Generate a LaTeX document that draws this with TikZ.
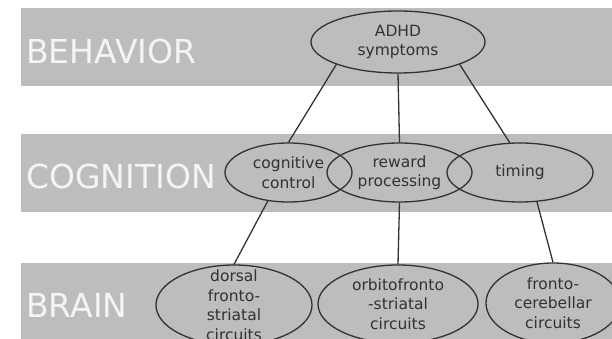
\documentclass[tikz,border=0pt]{standalone}
\usepackage{fontspec}
\setmainfont{DejaVu Sans}
\usetikzlibrary{shapes.geometric}
\definecolor{bandgray}{RGB}{189,189,189}
\definecolor{inkgray}{RGB}{50,50,50}
\definecolor{levelwhite}{RGB}{244,244,244}
\begin{document}
\begin{tikzpicture}[x=1pt,y=-1pt,
	level/.style={anchor=west,inner sep=0pt,text=levelwhite,font=\fontsize{33}{40}\selectfont},
	ell/.style={ellipse,draw=inkgray,line width=1.3pt,inner sep=0pt,align=center,text=inkgray,font=\fontsize{15.5}{19.5}\selectfont},
	link/.style={draw=inkgray,line width=1.3pt}]
		\useasboundingbox (0,0) rectangle (612,339);
		%bands
		\fill[bandgray] (21,8) rectangle (612,86);
		\fill[bandgray] (21,134) rectangle (612,212);
		\fill[bandgray] (21,263) rectangle (612,339);
		\node[level] (behavior) at (26,51) {BEHAVIOR};
		\node[level] (cognition) at (26,176) {COGNITION};
		\node[level] (brain) at (26,305) {BRAIN};
		%behavior
		\node[ell,minimum width=174pt,minimum height=62pt] (adhd) at (398,42) {ADHD\\symptoms};
		%cognition
		\node[ell,minimum width=127pt,minimum height=59pt] (cogctrl) at (288.5,172.5) {cognitive\\control};
		\node[ell,minimum width=145pt,minimum height=59pt] (reward) at (399.5,172.5) {reward\\processing};
		\node[ell,minimum width=146pt,minimum height=59pt] (timing) at (520,172.5) {timing};
		%brain
		\node[ell,minimum width=156pt,minimum height=80pt,inner ysep=-10pt] (dorsal) at (234,305) {dorsal\\fronto-\\striatal\\circuits};
		\node[ell,minimum width=160pt,minimum height=78pt,inner ysep=-4pt] (orbito) at (398,304) {orbitofronto\\-striatal\\circuits};
		\node[ell,minimum width=134pt,minimum height=80pt,inner ysep=-4pt] (cerebellar) at (553,303) {fronto-\\cerebellar\\circuits};
		%links
		\draw[link] (adhd.200) -- (cogctrl.north);
		\draw[link] (adhd.south) -- (reward.north);
		\draw[link] (adhd.340) -- (timing.109);
		\draw[link] (cogctrl.234) -- (dorsal.north);
		\draw[link] (reward.south) -- (orbito.north);
		\draw[link] (timing.300) -- (cerebellar.north);
	\end{tikzpicture}
\end{document}
